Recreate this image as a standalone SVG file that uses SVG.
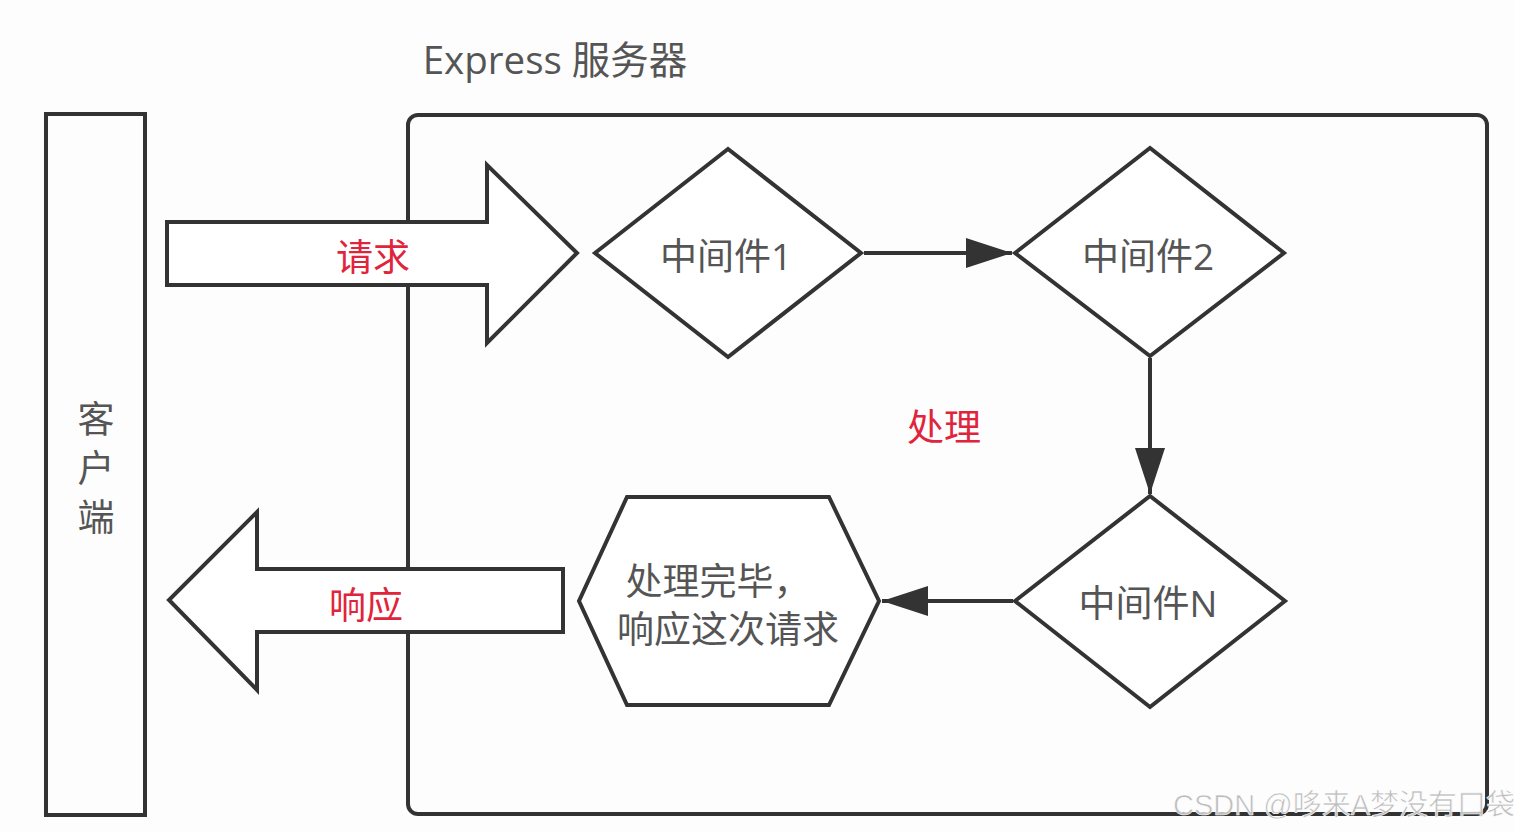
<svg xmlns="http://www.w3.org/2000/svg" width="1514" height="832" viewBox="0 0 1514 832">
<defs>
<style>
.shape{fill:#fff;stroke:#333;stroke-width:4;stroke-linejoin:miter}
.frame{fill:none;stroke:#333;stroke-width:4}
.lbl{font-family:"Open Sans","Noto Sans CJK SC",sans-serif;font-size:37px;fill:#555;text-anchor:middle;dominant-baseline:central}
.red{fill:#e0243c}
.conn{stroke:#333;stroke-width:4;fill:none}
.wm{font-family:"Liberation Sans","Noto Sans CJK SC",sans-serif;font-size:29px;fill:#bdbdbd;stroke:#fff;stroke-width:0.6}
</style>
<marker id="ah" markerUnits="userSpaceOnUse" markerWidth="48" markerHeight="32" refX="46" refY="15" orient="auto">
<path d="M0,0 L46,15 L0,30 z" fill="#333"/>
</marker>
</defs>
<rect width="1514" height="832" fill="#fdfdfd"/>
<g id="title"><text class="lbl" x="555" y="59" style="font-size:38.5px">Express 服务器</text></g>
<g id="server"><rect class="frame" x="408" y="115" width="1079" height="699" rx="10"/></g>
<g id="client"><rect class="frame" x="46" y="114" width="99" height="701"/>
<text class="lbl" x="96" y="418">客</text><text class="lbl" x="96" y="467">户</text><text class="lbl" x="96" y="516">端</text></g>
<g id="request"><path class="shape" d="M167,222 L487,222 L487,165 L577,253 L487,343 L487,285 L167,285 z"/>
<text class="lbl red" x="373" y="256">请求</text></g>
<g id="response"><path class="shape" d="M563,569 L257,569 L257,512 L169,600 L257,690 L257,632 L563,632 z"/>
<text class="lbl red" x="366" y="604">响应</text></g>
<g id="mw1"><path class="shape" d="M595,253 L728,149 L861,253 L728,357 z"/><text class="lbl" x="726" y="255">中间件1</text></g>
<g id="mw2"><path class="shape" d="M1015,253 L1150,148 L1284,253 L1150,356 z"/><text class="lbl" x="1148" y="255">中间件2</text></g>
<g id="mwN"><path class="shape" d="M1015,601 L1150,496 L1285,601 L1150,707 z"/><text class="lbl" x="1148" y="602">中间件N</text></g>
<g id="done"><path class="shape" d="M627,497 L829,497 L879,601 L829,705 L627,705 L579,601 z"/>
<text class="lbl" x="718" y="580">处理完毕，</text><text class="lbl" x="728" y="628">响应这次请求</text></g>
<g id="process"><text class="lbl red" x="944" y="426">处理</text></g>
<g id="connectors">
<line class="conn" x1="864" y1="253" x2="1012" y2="253" marker-end="url(#ah)"/>
<line class="conn" x1="1150" y1="358" x2="1150" y2="494" marker-end="url(#ah)"/>
<line class="conn" x1="1013" y1="601" x2="882" y2="601" marker-end="url(#ah)"/>
</g>
<text class="wm" x="1173" y="815">CSDN @哆来A梦没有口袋</text>
</svg>
